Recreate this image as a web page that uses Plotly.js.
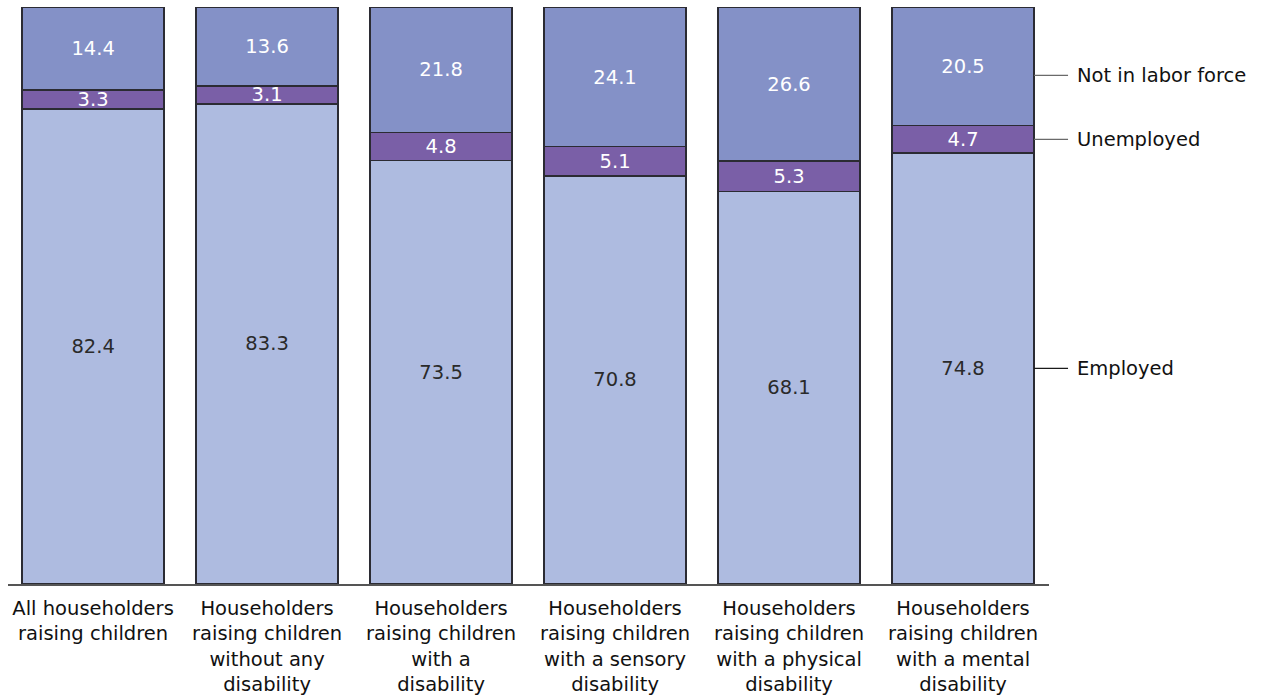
<!DOCTYPE html>
<html>
<head>
<meta charset="utf-8">
<script src="https://cdn.plot.ly/plotly-3.0.1.min.js"></script>
<style>
  html, body { margin: 0; padding: 0; background: #fff; }
  #chart { width: 1266px; height: 700px; }
</style>
</head>
<body>
<div id="chart"></div>
<script>
// Employment status of householders raising children (percent)
const categories = [
  "All householders<br>raising children",
  "Householders<br>raising children<br>without any<br>disability",
  "Householders<br>raising children<br>with a<br>disability",
  "Householders<br>raising children<br>with a sensory<br>disability",
  "Householders<br>raising children<br>with a physical<br>disability",
  "Householders<br>raising children<br>with a mental<br>disability"
];
const employed      = [82.4, 83.3, 73.5, 70.8, 68.1, 74.8];
const unemployed    = [3.3, 3.1, 4.8, 5.1, 5.3, 4.7];
const notInLabor    = [14.4, 13.6, 21.8, 24.1, 26.6, 20.5];
const seriesNames   = ["Employed", "Unemployed", "Not in labor force"];

const FONT = "DejaVu Sans, Verdana, sans-serif";
const FS = 19.5;
const outline = { color: "#2b2b33", width: 1.5 };
const barGap = 0.184;
const halfBar = (1 - barGap) / 2;
const xRange = [-0.489, 5.494];

function seg(values, name, fill, textColor) {
  return {
    type: "bar",
    name: name,
    x: categories,
    y: values,
    text: values.map(v => v.toFixed(1)),
    textposition: "inside",
    insidetextanchor: "middle",
    textangle: 0,
    constraintext: "none",
    textfont: { family: FONT, size: FS, color: textColor },
    marker: { color: fill, line: outline },
    hoverinfo: "skip"
  };
}

const traces = [
  seg(employed, seriesNames[0], "#aebbe0", "#2a2a2a"),
  seg(unemployed, seriesNames[1], "#7a5fa7", "#ffffff"),
  seg(notInLabor, seriesNames[2], "#8491c7", "#ffffff")
];

// Side labels attached to the last column's segments
const last = categories.length - 1;
const e = employed[last], u = unemployed[last], n = notInLabor[last];
const labelY = [e / 2, e + u / 2, e + u + n / 2 - 1.5];
const labelColors = ["#1a1a1a", "#6a6a6a", "#6a6a6a"];
const toPaper = v => (v - xRange[0]) / (xRange[1] - xRange[0]);
const px0 = toPaper(last + halfBar);
const px1 = px0 + 34 / 1041;

const shapes = labelY.map((y, i) => ({
  type: "line", xref: "paper", yref: "y",
  x0: px0, x1: px1, y0: y, y1: y,
  line: { color: labelColors[i], width: 1.2 }
}));
const annotations = labelY.map((y, i) => ({
  xref: "paper", yref: "y", x: px1 + 7 / 1041, y: y,
  xanchor: "left", yanchor: "middle",
  text: seriesNames[i], showarrow: false,
  font: { family: FONT, size: FS, color: "#111" }
}));

const layout = {
  width: 1266, height: 700,
  margin: { l: 8, r: 217, t: 7, b: 116 },
  paper_bgcolor: "#fff", plot_bgcolor: "#fff",
  barmode: "stack",
  bargap: barGap,
  showlegend: false,
  xaxis: {
    type: "category",
    range: xRange,
    showline: true, linecolor: "#555", linewidth: 1.5,
    ticks: "", showgrid: false, zeroline: false,
    tickfont: { family: FONT, size: FS, color: "#111" },
    ticklabelstandoff: 6,
    tickangle: 0
  },
  yaxis: {
    range: [0, 100.1],
    showticklabels: false, showgrid: false, zeroline: false, showline: false, ticks: ""
  },
  shapes: shapes,
  annotations: annotations,
  font: { family: FONT }
};

Plotly.newPlot("chart", traces, layout, { displayModeBar: false, staticPlot: true });
</script>
</body>
</html>
